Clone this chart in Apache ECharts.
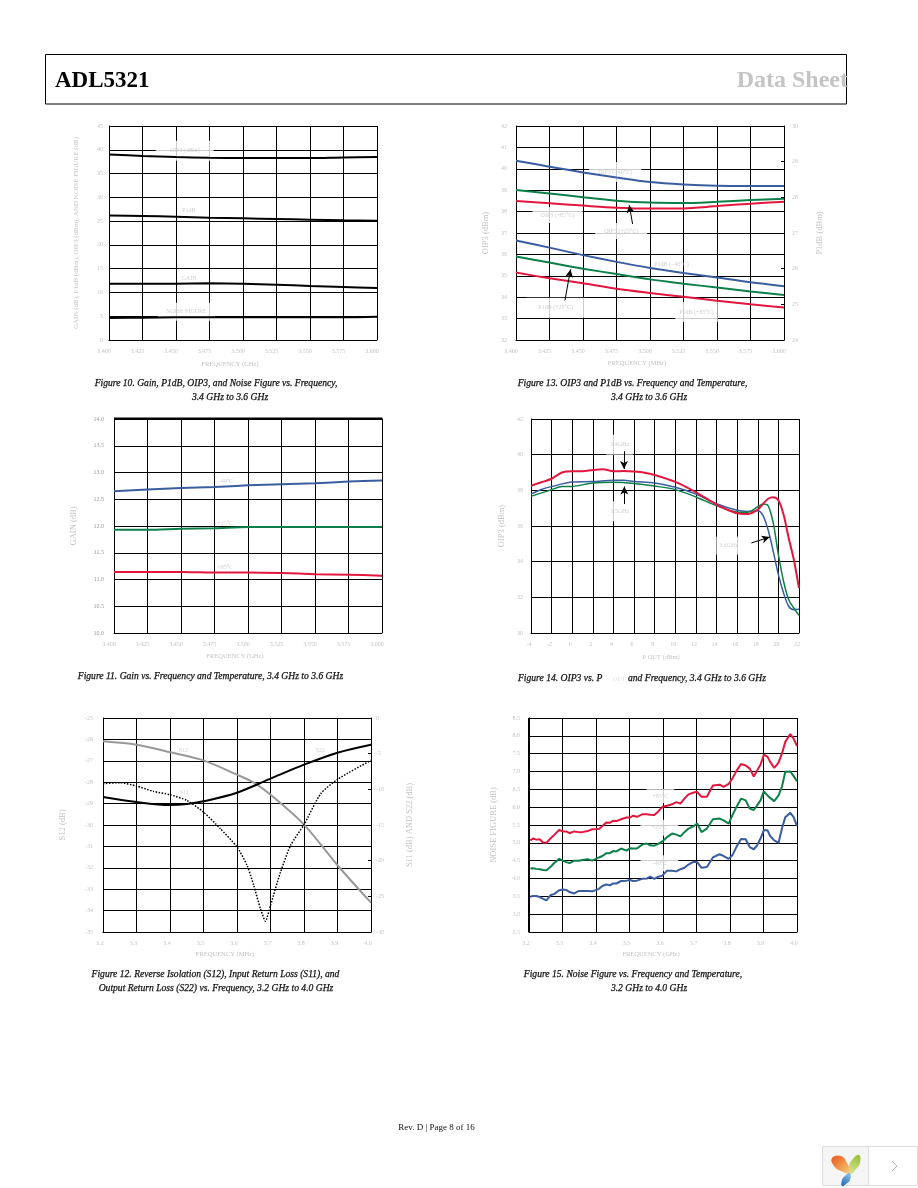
<!DOCTYPE html>
<html><head><meta charset="utf-8">
<script src="https://cdn.jsdelivr.net/npm/echarts@6/dist/echarts.min.js"></script>
<style>html,body{margin:0;padding:0;background:#fff}#c{width:918px;height:1188px}</style>
</head><body><div id="c"></div>
<script>
// ---- data ----
const f10Freq=[3.4,3.425,3.45,3.475,3.5,3.525,3.55,3.575,3.6];
const f10Oip3=[39.03,38.7,38.47,38.33,38.26,38.26,38.26,38.4,38.47];
const f10P1db=[26.2,26.07,25.93,25.72,25.58,25.44,25.3,25.16,25.09];
const f10Gain=[11.84,11.84,11.84,11.91,11.84,11.63,11.35,11.14,10.93];
const f10Nf=[4.63,4.7,4.77,4.77,4.77,4.77,4.77,4.77,4.9];

const f13Oip3M40=[40.38,40.1,39.83,39.59,39.38,39.27,39.21,39.2,39.2];
const f13Oip3P25=[39.01,38.85,38.67,38.51,38.42,38.4,38.46,38.54,38.6];
const f13Oip3P85=[38.5,38.39,38.28,38.18,38.14,38.15,38.26,38.37,38.46];
const f13P1dbM40=[26.79,26.59,26.38,26.19,26.02,25.88,25.75,25.62,25.51];
const f13P1dbP25=[26.34,26.17,26.0,25.85,25.7,25.58,25.47,25.36,25.26];
const f13P1dbP85=[25.89,25.73,25.59,25.44,25.32,25.21,25.1,25.0,24.91];

const f11GainM40=[12.65,12.68,12.71,12.73,12.76,12.78,12.8,12.83,12.85];
const f11GainP25=[11.93,11.93,11.95,11.96,11.98,11.98,11.98,11.98,11.98];
const f11GainP85=[11.14,11.14,11.14,11.13,11.13,11.12,11.1,11.09,11.07];

const f14RedX=[-4,-3,-2,-1,0,1,2,3,4,5,6,7,8,10,12,14,15,16,17,18,18.5,19,19.5,20,20.5,21,21.5,22];
const f14Red=[38.26,38.45,38.65,39.0,39.07,39.07,39.14,39.18,39.07,39.08,39.05,38.99,38.86,38.47,37.89,37.2,36.92,36.71,36.67,36.92,37.23,37.53,37.61,37.44,36.64,35.33,34.11,32.52];
const f14GreenX=[-4,-2,-1,0,2,4,6,8,10,12,14,16,17,18,18.5,19,19.5,20,20.5,21,21.5,22];
const f14Green=[37.66,38.04,38.21,38.22,38.41,38.45,38.39,38.24,38.04,37.63,37.14,36.79,36.77,37.08,37.23,37.14,36.17,34.39,32.9,31.87,31.4,30.99];
const f14BlueX=[-4,-3,-2,0,2,4,5,6,8,10,12,14,16,17,18,18.5,19,19.5,20,20.5,21,21.5,22];
const f14Blue=[37.79,38.05,38.21,38.47,38.49,38.56,38.56,38.49,38.41,38.17,37.79,37.25,36.88,36.82,36.86,36.6,35.79,34.58,33.27,32.24,31.5,31.31,31.33];

const f12S12X=[3.2,3.3,3.4,3.5,3.6,3.65,3.7,3.8,3.9,4.0];
const f12S12=[-26.09,-26.25,-26.6,-26.98,-27.65,-28.02,-28.58,-29.98,-31.88,-33.63];
const f12S22X=[3.2,3.3,3.4,3.45,3.5,3.6,3.7,3.8,3.9,4.0];
const f12S22=[-11.07,-11.78,-12.2,-12.07,-11.68,-10.47,-8.5,-6.54,-4.86,-3.74];
const f12S11X=[3.2,3.25,3.3,3.35,3.4,3.45,3.5,3.55,3.6,3.63,3.65,3.67,3.685,3.7,3.73,3.76,3.8,3.85,3.9,4.0];
const f12S11=[-9.2,-9.06,-9.53,-10.28,-10.75,-11.54,-13.18,-15.5,-18.08,-20.65,-23.46,-26.73,-28.5,-26.26,-21.59,-17.85,-14.95,-10.6,-8.6,-5.93];

const f15Freq=[3.204,3.212,3.222,3.232,3.242,3.252,3.264,3.276,3.29,3.301,3.311,3.321,3.335,3.349,3.359,3.375,3.389,3.409,3.419,3.431,3.441,3.451,3.461,3.475,3.491,3.502,3.51,3.522,3.538,3.552,3.562,3.574,3.586,3.598,3.612,3.627,3.64,3.652,3.664,3.676,3.692,3.702,3.715,3.731,3.749,3.769,3.781,3.796,3.807,3.819,3.833,3.847,3.859,3.871,3.881,3.891,3.901,3.912,3.92,3.932,3.945,3.955,3.965,3.98,3.99,4.0];
const f15P85=[5.07,5.12,5.09,5.10,5.01,5.0,5.12,5.23,5.36,5.32,5.32,5.27,5.32,5.30,5.30,5.33,5.38,5.39,5.47,5.57,5.56,5.62,5.61,5.66,5.71,5.71,5.76,5.73,5.80,5.80,5.79,5.78,5.88,6.01,6.04,6.08,6.14,6.10,6.24,6.36,6.41,6.43,6.29,6.29,6.61,6.63,6.57,6.65,6.80,7.01,7.21,7.17,7.08,6.86,7.03,7.19,7.47,7.41,7.27,7.10,7.25,7.50,7.83,8.05,7.92,7.71];
const f15P25=[4.28,4.29,4.27,4.26,4.24,4.23,4.32,4.44,4.55,4.50,4.46,4.43,4.50,4.50,4.52,4.54,4.50,4.59,4.63,4.71,4.71,4.77,4.76,4.84,4.78,4.85,4.84,4.84,4.95,4.98,4.93,4.92,4.97,5.04,5.16,5.26,5.23,5.18,5.30,5.40,5.47,5.54,5.30,5.40,5.66,5.68,5.63,5.54,5.77,6.0,6.24,6.19,5.96,5.92,6.05,6.19,6.44,6.33,6.26,6.17,6.33,6.57,6.99,7.0,6.87,6.73];
const f15M40=[3.49,3.51,3.51,3.48,3.43,3.39,3.53,3.57,3.67,3.69,3.68,3.62,3.58,3.65,3.65,3.65,3.64,3.71,3.79,3.83,3.81,3.86,3.86,3.93,3.94,3.96,3.93,3.94,3.99,4.0,4.05,3.99,4.05,4.08,4.22,4.22,4.20,4.26,4.30,4.39,4.47,4.46,4.30,4.32,4.59,4.68,4.63,4.55,4.65,4.88,5.11,5.10,4.88,4.82,4.93,5.12,5.35,5.35,5.19,5.07,5.0,5.40,5.72,5.84,5.72,5.47];

// annotation labels: [x, y, text, box padding v, box padding h]
const f10Notes=[[3.4565,39.8,'OIP3 (dBm)',7,14],[3.4595,27.33,'P1dB',0,0],[3.4597,13.03,'GAIN',0,0],[3.4577,5.96,'NOISE FIGURE',6,8]];
const f13Notes=[[3.474,39.85,'OIP3 (\u221240\u00b0C)',7,9],[3.431,37.84,'OIP3 (+85\u00b0C)',5,8],[3.4785,37.09,'OIP3 (+25\u00b0C)',5,9],[3.516,35.55,'P1dB (\u221240\u00b0C)',0,0],[3.4296,33.51,'P1dB (+25\u00b0C)',7,12],[3.5347,33.31,'P1dB (+85\u00b0C)',7,4]];
const f11Notes=[[3.483,12.83,'\u221240\u00b0C',0,0],[3.483,12.05,'+25\u00b0C',0,0],[3.483,11.22,'+85\u00b0C',0,0]];
const f14Notes=[[4.6,40.56,'3.4GHz',7,4],[4.6,36.82,'3.5GHz',7,4],[15.18,34.9,'3.6GHz',6,3]];
const f12Notes=[[3.44,-26.5,'S12',0,0],[3.849,-26.5,'S22',0,0],[3.4425,-28.47,'S11',0,0]];
const f15Notes=[[3.592,6.31,'+85\u00b0C',4,6],[3.589,5.42,'+25\u00b0C',5,11],[3.589,4.43,'\u221240\u00b0C',5,11]];

// arrows: [x0,y0,x1,y1] in data values
const f13Arrows=[[3.487,37.42,3.4845,38.31],[3.4365,33.84,3.4407,35.3]];
const f14Arrows=[[5.02,40.19,5.02,39.2],[5.05,37.23,5.05,38.22],[17.38,35.05,19.16,35.38]];

// ---- styling ----
const RED='#e3173e',GREEN='#0c8048',BLUE='#3a5da0',GREY='#c4c4c4',SERIF='"Liberation Serif"';
const zip=(x,y)=>x.map((v,i)=>[v,y[i]]);

const xAxes=[],yAxes=[],grids=[],series=[];
function panel(o){
  const gi=grids.length;
  grids.push({left:o.box[0],top:o.box[1],width:o.box[2],height:o.box[3],show:false});
  const common={gridIndex:gi,type:'value',axisLine:{show:true,onZero:false,lineStyle:{color:'#000',width:1}},
    splitLine:{show:true,lineStyle:{color:'#000',width:1}},axisTick:{show:false},
    nameTextStyle:{color:GREY,fontFamily:SERIF,fontSize:6.5}};
  const nameStyle=size=>Object.assign({},common.nameTextStyle,{fontSize:size});
  xAxes.push(Object.assign({},common,{min:o.x[0],max:o.x[1],interval:o.x[2],position:'bottom',
    axisLabel:{color:GREY,fontFamily:SERIF,fontSize:6,margin:8,padding:[0,o.xShift*2,0,0],hideOverlap:false,showMinLabel:true,showMaxLabel:true,
      formatter:v=>o.xFmt?v.toFixed(o.xFmt):String(v)},
    name:o.xName,nameLocation:'middle',nameGap:o.xGap,nameTextStyle:Object.assign({},common.nameTextStyle,{padding:[0,o.nameShift*2,0,0]})}));
  const yi=yAxes.length;
  yAxes.push(Object.assign({},common,{min:o.y[0],max:o.y[1],interval:o.y[2],position:'left',
    axisLabel:{color:o.yColor||GREY,fontFamily:SERIF,fontSize:6,margin:o.yMargin,hideOverlap:false,formatter:v=>o.yFmt?v.toFixed(o.yFmt):String(v)},
    name:o.yName,nameLocation:'middle',nameGap:o.yGap,nameRotate:90,nameTextStyle:nameStyle(o.yNameSize||8.5)}));
  let ri=null;
  if(o.r){
    ri=yAxes.length;
    yAxes.push(Object.assign({},common,{min:o.r[0],max:o.r[1],interval:o.r[2],position:'right',
      splitLine:{show:false},axisTick:{show:true,inside:true,length:3,lineStyle:{color:'#000'}},
      axisLabel:{color:GREY,fontFamily:SERIF,fontSize:6,margin:o.rMargin,hideOverlap:false},
      name:o.rName,nameLocation:'middle',nameGap:o.rGap,nameRotate:90,nameTextStyle:nameStyle(8.5)}));
  }
  series.push({type:'scatter',xAxisIndex:gi,yAxisIndex:yi,z:1,silent:true,symbolSize:1,itemStyle:{color:'transparent'},
    data:o.notes.map(n=>({value:[n[0],n[1]],label:{show:true,position:'inside',formatter:n[2],color:GREY,fontFamily:SERIF,fontSize:6,
      backgroundColor:n[3]?'#fff':'transparent',padding:[n[3],n[4]]}}))});
  o.lines.forEach(l=>series.push({type:'line',xAxisIndex:gi,yAxisIndex:l.right?ri:yi,z:3,silent:true,showSymbol:false,symbol:'none',
    smooth:l.smooth===undefined?0.3:l.smooth,data:l.data,lineStyle:{color:l.color,width:l.width||2,type:l.type||'solid'}}));
  if(o.arrows) series.push({type:'scatter',xAxisIndex:gi,yAxisIndex:yi,z:6,silent:true,symbolSize:0,data:[],
    markLine:{silent:true,symbol:['none','arrow'],symbolSize:[6,8],animation:false,label:{show:false},lineStyle:{color:'#000',width:1,type:'solid'},
      data:o.arrows.map(a=>[{coord:[a[0],a[1]]},{coord:[a[2],a[3]]}])}});
}

panel({box:[109,126,268,214],x:[3.4,3.6,0.025],xFmt:3,xShift:5,nameShift:13,xName:'FREQUENCY (GHz)',xGap:21,y:[0,45,5],yMargin:6,
  yName:'GAIN (dB), P1dB (dBm), OIP3 (dBm), AND NOISE FIGURE (dB)',yNameSize:7,yGap:29,notes:f10Notes,
  lines:[{data:zip(f10Freq,f10Oip3),color:'#000'},{data:zip(f10Freq,f10P1db),color:'#000'},{data:zip(f10Freq,f10Gain),color:'#000'},{data:zip(f10Freq,f10Nf),color:'#000'}]});
panel({box:[516,126,268,214],x:[3.4,3.6,0.025],xFmt:3,xShift:5,nameShift:13,xName:'FREQUENCY (MHz)',xGap:20,y:[32,42,1],yMargin:9,yName:'OIP3 (dBm)',yGap:26,
  r:[24,30,1],rMargin:8,rName:'P1dB (dBm)',rGap:31,notes:f13Notes,arrows:f13Arrows,
  lines:[{data:zip(f10Freq,f13Oip3M40),color:BLUE},{data:zip(f10Freq,f13Oip3P25),color:GREEN},{data:zip(f10Freq,f13Oip3P85),color:RED},
    {data:zip(f10Freq,f13P1dbM40),color:BLUE,right:true},{data:zip(f10Freq,f13P1dbP25),color:GREEN,right:true},{data:zip(f10Freq,f13P1dbP85),color:RED,right:true}]});
panel({box:[114,419,268,214],x:[3.4,3.6,0.025],xFmt:3,xShift:5,nameShift:13,xName:'FREQUENCY (GHz)',xGap:20,y:[10,14,0.5],yFmt:1,yMargin:10,yColor:'#999',yName:'GAIN (dB)',yGap:36,notes:f11Notes,
  lines:[{data:zip(f10Freq,f11GainM40),color:BLUE},{data:zip(f10Freq,f11GainP25),color:GREEN},{data:zip(f10Freq,f11GainP85),color:RED}]});
panel({box:[531,419,268,214],x:[-4,22,2],xFmt:0,xShift:2,nameShift:4,xName:'P OUT (dBm)',xGap:21,y:[30,42,2],yMargin:8,yName:'OIP3 (dBm)',yGap:25,notes:f14Notes,arrows:f14Arrows,
  lines:[{data:zip(f14BlueX,f14Blue),color:BLUE,width:1.5},{data:zip(f14GreenX,f14Green),color:GREEN,width:1.5},{data:zip(f14RedX,f14Red),color:RED,width:2}]});
panel({box:[103,718,268,214],x:[3.2,4.0,0.1],xFmt:1,xShift:3,nameShift:12,xName:'FREQUENCY (MHz)',xGap:19,y:[-35,-25,1],yMargin:10,yName:'S12 (dB)',yGap:36,
  r:[-30,0,5],rMargin:5,rName:'S11 (dB) AND S22 (dB)',rGap:34,notes:f12Notes,
  lines:[{data:zip(f12S12X,f12S12),color:'#999'},{data:zip(f12S22X,f12S22),color:'#000',right:true},{data:zip(f12S11X,f12S11),color:'#000',width:1.5,type:[1.5,1.5],right:true,smooth:0.2}]});
panel({box:[529,718,268,214],x:[3.2,4.0,0.1],xFmt:1,xShift:3,nameShift:12,xName:'FREQUENCY (GHz)',xGap:19,y:[2.5,8.5,0.5],yFmt:1,yMargin:9,yName:'NOISE FIGURE (dB)',yGap:31,notes:f15Notes,
  lines:[{data:zip(f15Freq,f15P85),color:RED,smooth:false},{data:zip(f15Freq,f15P25),color:GREEN,smooth:false},{data:zip(f15Freq,f15M40),color:BLUE,smooth:false}]});

// page furniture
const cap=(t,x,y,align,extra)=>({type:'text',z:10,silent:true,style:Object.assign({text:t,x:x,y:y,textAlign:align||'center',textVerticalAlign:'middle',fill:'#111',stroke:'#111',lineWidth:0.25,font:'italic 9.6px "Liberation Serif"'},extra||{})});
const graphic=[
  {type:'rect',z:0,silent:true,shape:{x:45.5,y:54.5,width:801,height:49.5},style:{fill:'none',stroke:'#000',lineWidth:1}},
  {type:'line',z:2,silent:true,shape:{x1:114,y1:418.5,x2:382.5,y2:418.5},style:{stroke:'#000',lineWidth:2}},
  {type:'line',z:2,silent:true,shape:{x1:529,y1:718,x2:529,y2:932},style:{stroke:'#000',lineWidth:2}},
  {type:'text',z:10,silent:true,style:{text:'ADL5321',x:55,y:81,textAlign:'left',textVerticalAlign:'middle',fill:'#000',font:'bold 23px "Liberation Serif"'}},
  {type:'text',z:10,silent:true,style:{text:'Data Sheet',x:848,y:81,textAlign:'right',textVerticalAlign:'middle',fill:'#c4c4c4',font:'bold 24px "Liberation Serif"'}},
  cap('Figure 10. Gain, P1dB, OIP3, and Noise Figure vs. Frequency,',216,383),
  cap('3.4 GHz to 3.6 GHz',230,397),
  cap('Figure 13. OIP3 and P1dB vs. Frequency and Temperature,',632.5,383),
  cap('3.4 GHz to 3.6 GHz',649,397),
  cap('Figure 11. Gain vs. Frequency and Temperature, 3.4 GHz to 3.6 GHz',210.5,676),
  cap('Figure 14. OIP3 vs. P',518,678,'left'),
  cap('OUT',613,679,'left',{fill:'#ddd',stroke:'none',font:'italic 6px "Liberation Serif"'}),
  cap('and Frequency, 3.4 GHz to 3.6 GHz',628,678,'left'),
  cap('Figure 12. Reverse Isolation (S12), Input Return Loss (S11), and',215.5,974),
  cap('Output Return Loss (S22) vs. Frequency, 3.2 GHz to 4.0 GHz',216,988),
  cap('Figure 15. Noise Figure vs. Frequency and Temperature,',633,974),
  cap('3.2 GHz to 4.0 GHz',649,988),
  {type:'text',z:10,silent:true,style:{text:'Rev. D | Page 8 of 16',x:436.5,y:1128,textAlign:'center',textVerticalAlign:'middle',fill:'#111',font:'9px "Liberation Serif"'}},
  {type:'rect',z:0,silent:true,shape:{x:822.5,y:1146.5,width:95,height:39},style:{fill:'#fff',stroke:'#ddd',lineWidth:1}},
  {type:'rect',z:0,silent:true,shape:{x:822.5,y:1146.5,width:46,height:39},style:{fill:'#f5f5f5',stroke:'#ddd',lineWidth:1}},
  {type:'polygon',z:1,silent:true,shape:{smooth:0.5,points:[[832,1158],[841,1156],[847,1163],[850,1173],[841,1171],[834,1166]]},style:{fill:new echarts.graphic.LinearGradient(0,0,1,1,[{offset:0,color:'#e8541c'},{offset:1,color:'#f7d27a'}])}},
  {type:'polygon',z:1,silent:true,shape:{smooth:0.5,points:[[859,1155],[860,1163],[856,1169],[851,1174],[849,1167],[852,1160]]},style:{fill:new echarts.graphic.LinearGradient(1,0,0,1,[{offset:0,color:'#95bd2e'},{offset:1,color:'#dbe59a'}])}},
  {type:'polygon',z:1,silent:true,shape:{smooth:0.5,points:[[850,1173],[850,1180],[846,1184],[842,1186],[842,1180],[845,1176]]},style:{fill:new echarts.graphic.LinearGradient(1,0,0,1,[{offset:0,color:'#9cc7ea'},{offset:1,color:'#1566b5'}])}},
  {type:'polyline',z:1,silent:true,shape:{points:[[892,1161],[897,1166],[892,1171]]},style:{fill:'none',stroke:'#bbb',lineWidth:1}}
];

const chart=echarts.init(document.getElementById('c'),null,{renderer:'canvas'});
chart.setOption({animation:false,backgroundColor:'#fff',grid:grids,xAxis:xAxes,yAxis:yAxes,series:series,graphic:graphic});
</script></body></html>
